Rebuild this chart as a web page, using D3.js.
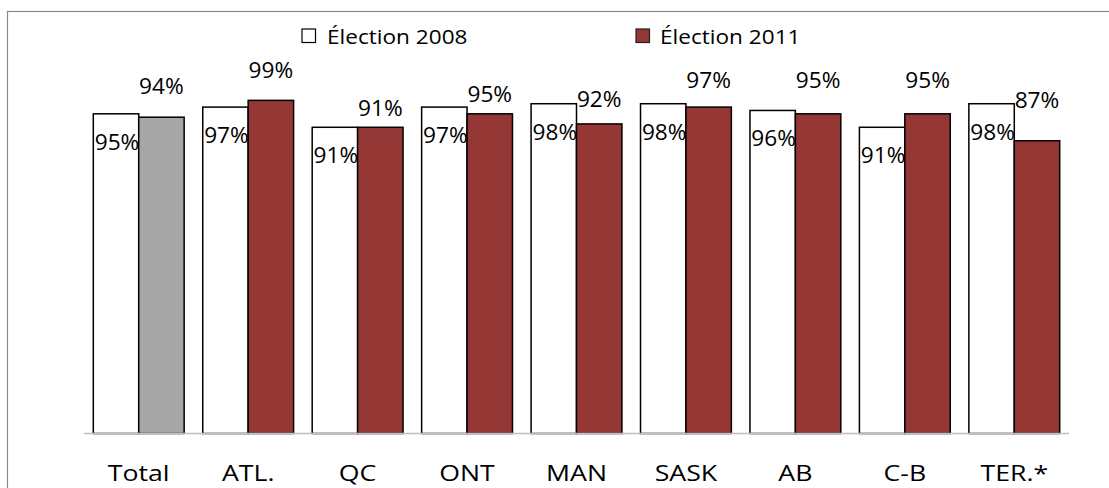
<!DOCTYPE html>
<html>
<head>
<meta charset="utf-8">
<script src="https://cdn.jsdelivr.net/npm/d3@7"></script>
<style>
  html, body { margin: 0; padding: 0; background: #fff; }
  svg { display: block; }
  text { font-family: "Open Sans", "Noto Sans", sans-serif; fill: #000; }
</style>
</head>
<body>
<svg id="chart" width="1109" height="488"></svg>
<script>
// Regions and turnout shares (percent) for the two elections
const categories = ["Total", "ATL.", "QC", "ONT", "MAN", "SASK", "AB", "C-B", "TER.*"];
const election2008 = [95, 97, 91, 97, 98, 98, 96, 91, 98];
const election2011 = [94, 99, 91, 95, 92, 97, 95, 95, 87];
const seriesNames = ["Élection 2008", "Élection 2011"];

// Layout: how far each 2011 value label sits above its bar (px)
const lift2011 = [23, 22, 11, 12, 17, 19, 26, 26, 33];

const RED = "#953735";
const GREY = "#a6a6a6";

const svg = d3.select("#chart");
const W = 1109, H = 488;

svg.append("rect").attr("width", W).attr("height", H).attr("fill", "#fff");

// chart frame (runs past the right and bottom edges)
svg.append("rect")
  .attr("x", 7.5).attr("y", 11.5)
  .attr("width", 1200).attr("height", 600)
  .attr("fill", "none").attr("stroke", "#8a8a8a").attr("stroke-width", 1.2);

const baseY = 433.5;
const x = d3.scaleBand().domain(categories).range([84, 1069])
  .paddingInner(0.17).paddingOuter(0.085);
const xs = d3.scaleBand().domain(seriesNames).range([0, x.bandwidth()]);
const y = d3.scaleLinear().domain([0, 100]).range([baseY, 97]);

const rows = categories.map((c, i) => ({
  cat: c, i,
  vals: [
    { s: seriesNames[0], v: election2008[i] },
    { s: seriesNames[1], v: election2011[i] }
  ]
}));

const fillFor = (d, i) => d.s === seriesNames[0] ? "#fff" : (i === 0 ? GREY : RED);

const groups = svg.append("g").selectAll("g").data(rows).join("g")
  .attr("transform", d => `translate(${x(d.cat)},0)`);

groups.selectAll("rect").data(d => d.vals.map(v => ({ ...v, i: d.i }))).join("rect")
  .attr("x", d => xs(d.s))
  .attr("y", d => y(d.v))
  .attr("width", xs.bandwidth())
  .attr("height", d => baseY - y(d.v))
  .attr("fill", d => fillFor(d, d.i))
  .attr("stroke", "#000")
  .attr("stroke-width", 1.5);

// baseline
svg.append("line")
  .attr("x1", 84).attr("x2", 1069)
  .attr("y1", baseY).attr("y2", baseY)
  .attr("stroke", "#bfbfbf").attr("stroke-width", 1.5);

// stretched text helper
function label(sel, tx, ty, txt, size, sx) {
  sel.append("text")
    .attr("transform", `translate(${tx},${ty}) scale(${sx},1)`)
    .attr("text-anchor", "middle")
    .attr("font-size", size)
    .text(txt);
}

const labels = svg.append("g");
rows.forEach(d => {
  const cx08 = x(d.cat) + xs(seriesNames[0]) + xs.bandwidth() / 2 + 1;
  const cx11 = x(d.cat) + xs(seriesNames[1]) + xs.bandwidth() / 2;
  label(labels, cx08, y(election2008[d.i]) + 36, election2008[d.i] + "%", 21, 1.08);
  label(labels, cx11, y(election2011[d.i]) - lift2011[d.i], election2011[d.i] + "%", 21, 1.08);
});

// category axis labels
categories.forEach(c => {
  label(labels, x(c) + x.bandwidth() / 2, 481, c, 22.4, 1.19);
});

// legend
const legend = svg.append("g");
const legendItems = [
  { name: seriesNames[0], sx: 302, tx: 327, fill: "#fff", stroke: "#000" },
  { name: seriesNames[1], sx: 636, tx: 660, fill: RED, stroke: "#222" }
];
legendItems.forEach(it => {
  legend.append("rect")
    .attr("x", it.sx).attr("y", 29)
    .attr("width", 13.5).attr("height", 13.5)
    .attr("fill", it.fill).attr("stroke", it.stroke).attr("stroke-width", 1.2);
  legend.append("text")
    .attr("transform", `translate(${it.tx},44) scale(1.13,1)`)
    .attr("font-size", 20)
    .text(it.name);
});
</script>
</body>
</html>
